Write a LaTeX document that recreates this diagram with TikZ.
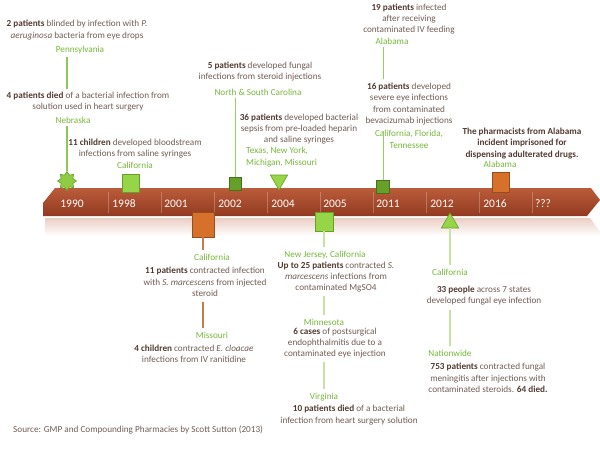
\documentclass[tikz,border=0pt]{standalone}
\usepackage{fontspec}
\setmainfont{Carlito}
\usetikzlibrary{shapes.geometric}
\definecolor{txtc}{RGB}{112,92,84}
\definecolor{boldc}{RGB}{82,58,48}
\definecolor{grnc}{RGB}{118,182,58}
\definecolor{barlt}{RGB}{186,92,58}
\definecolor{bardk}{RGB}{146,58,32}
\definecolor{lgrn}{RGB}{150,212,72}
\definecolor{dgrn}{RGB}{102,160,42}
\definecolor{orng}{RGB}{214,112,42}
\newcommand{\bnum}[1]{\textbf{\color{boldc}#1}}
\tikzstyle{txt}=[align=center,text=txtc,inner sep=0pt,font=\fontsize{9.2}{11.4}\selectfont]
\tikzstyle{place}=[align=center,text=grnc,inner sep=0pt,font=\fontsize{9.2}{11.4}\selectfont]
\tikzstyle{yearlbl}=[text=white,inner sep=0pt,font=\fontsize{11.5}{12}\selectfont]
\tikzstyle{sqlight}=[rectangle,draw=dgrn,fill=lgrn,inner sep=0pt,line width=0.6pt]
\tikzstyle{sqdark}=[rectangle,draw=dgrn!70!black,fill=dgrn,inner sep=0pt,line width=0.6pt]
\tikzstyle{sqorange}=[rectangle,draw=orng!70!black,fill=orng,inner sep=0pt,line width=0.6pt]
\tikzstyle{trigrn}=[regular polygon,regular polygon sides=3,draw=dgrn,fill=lgrn,inner sep=0pt,minimum size=20pt,line width=0.6pt]
\tikzstyle{stargrn}=[star,star points=8,star point ratio=1.5,draw=dgrn,fill=lgrn!85!dgrn,inner sep=0pt,minimum size=19pt,line width=0.6pt]
\tikzstyle{glink}=[draw={rgb,255:red,140;green,200;blue,88},line width=1.6pt]
\tikzstyle{gthin}=[draw={rgb,255:red,150;green,205;blue,100},line width=1pt]
\tikzstyle{gpale}=[draw={rgb,255:red,196;green,228;blue,160},line width=1.5pt]
\tikzstyle{olink}=[draw={rgb,255:red,204;green,120;blue,72},line width=1.5pt]
\tikzstyle{divider}=[draw=white,opacity=0.25,line width=0.8pt]

\begin{document}
\begin{tikzpicture}[x=1pt,y=-1pt]
	\useasboundingbox (0,0) rectangle (600,451);
	% timeline bar and its reflection
	\shade[top color=barlt!30,bottom color=white] (45,218) -- (590,218) -- (600,232) -- (600,236) -- (45,236) -- cycle;
	\shade[top color=barlt,bottom color=bardk] (55,188) -- (591,188) -- (600,200) -- (587,216) -- (43,216) -- (43,203) -- cycle;
	\foreach \i in {0,...,8}
		\draw[divider] ({108+53.1*\i},192) -- ({108+53.1*\i},213);
	\foreach \yr/\x [count=\i] in {1990/72,1998/124,2001/176,2002/230,2004/283,2005/335,2011/388,2012/442,2016/495,???/543}
		\node[yearlbl] (yr\i) at (\x,204) {\yr};

	% markers
	\node[stargrn] (m1990) at (67,181) {};
	\node[sqlight,minimum width=17pt,minimum height=18pt] (m1998) at (131,183) {};
	\node[sqorange,minimum width=22pt,minimum height=25pt] (m2001) at (203,224.5) {};
	\node[sqdark,minimum width=12pt,minimum height=13pt] (m2002) at (235,183.5) {};
	\node[trigrn,shape border rotate=180] (m2004) at (279,180) {};
	\node[sqlight,minimum width=18pt,minimum height=19pt] (m2005) at (324,221.5) {};
	\node[sqdark,minimum width=13pt,minimum height=13pt] (m2011) at (383,186.5) {};
	\node[trigrn] (m2012) at (450,223) {};
	\node[sqorange,minimum width=17pt,minimum height=20pt] (m2016) at (501,182) {};

	% above the bar
	\node[txt] (pat2) at (77,30) {\bnum{2 patients} blinded by infection with \textit{P.}\\\textit{aeruginosa} bacteria from eye drops};
	\node[place] (penn) at (80,50) {Pennsylvania};
	\node[txt] (died4) at (88,101.5) {\bnum{4 patients died} of a bacterial infection from\\solution used in heart surgery};
	\node[place] (nebr) at (73,120) {Nebraska};
	\node[txt] (chl11) at (135,148.5) {\bnum{11 children} developed bloodstream\\infections from saline syringes};
	\node[place] (cal98) at (135,165) {California};
	\node[txt] (pat5) at (260,71.5) {\bnum{5 patients} developed fungal\\infections from steroid injections};
	\node[place] (ncsc) at (258,92) {North \& South Carolina};
	\node[txt] (pat36) at (299,129) {\bnum{36 patients} developed bacterial\\sepsis from pre-loaded heparin\\and saline syringes};
	\node[place,align=left,anchor=west] (txmo) at (246,157) {Texas, New York,\\Michigan, Missouri};
	\node[txt] (pat19) at (409,19) {\bnum{19 patients} infected\\after receiving\\contaminated IV feeding};
	\node[place] (ala11) at (392,41) {Alabama};
	\node[txt] (pat16) at (409,104) {\bnum{16 patients} developed\\severe eye infections\\from contaminated\\bevacizumab injections};
	\node[place] (cft) at (409,139.5) {California, Florida,\\Tennessee};
	\node[txt] (pharm) at (522,143.5) {\bnum{The pharmacists from Alabama}\\\bnum{incident imprisoned for}\\\bnum{dispensing adulterated drugs.}};
	\node[place] (ala16) at (500,164) {Alabama};

	% below the bar
	\node[place] (cal01) at (212,257) {California};
	\node[txt] (pat11) at (205,282) {\bnum{11 patients} contracted infection\\with \textit{S. marcescens} from injected\\steroid};
	\node[place] (miss) at (212,335) {Missouri};
	\node[txt] (chl4) at (194,353.5) {\bnum{4 children} contracted \textit{E. cloacae}\\infections from IV ranitidine};
	\node[place] (njc) at (325,255) {New Jersey, California};
	\node[txt] (pat25) at (336,277) {\bnum{Up to 25 patients} contracted \textit{S.}\\\textit{marcescens} infections from\\contaminated MgSO4};
	\node[place] (minn) at (324,322) {Minnesota};
	\node[txt] (case6) at (335,343) {\bnum{6 cases} of postsurgical\\endophthalmitis due to a\\contaminated eye injection};
	\node[place] (virg) at (324,397) {Virginia};
	\node[txt] (died10) at (349,415) {\bnum{10 patients died} of a bacterial\\infection from heart surgery solution};
	\node[place] (cal12) at (450,272) {California};
	\node[txt] (ppl33) at (484,295.5) {\bnum{33 people} across 7 states\\developed fungal eye infection};
	\node[place] (natw) at (450,353) {Nationwide};
	\node[txt] (pat753) at (488,378) {\bnum{753 patients} contracted fungal\\meningitis after injections with\\contaminated steroids. \bnum{64 died.}};
	\node[txt,anchor=west] (src) at (13,430) {Source: GMP and Compounding Pharmacies by Scott Sutton (2013)};

	% connectors
	\draw[glink] ([yshift=-3pt]m1990 |- penn.south) -- ([yshift=3pt]m1990 |- died4.north);
	\draw[glink] (m1990.north) -- ([yshift=-3pt]m1990 |- nebr.south);
	\draw[gthin] (m2002.north) -- ([yshift=-3pt]m2002 |- ncsc.south);
	\draw[gthin] ([yshift=-3pt]m2011 |- ala11.south) -- ([yshift=4pt]m2011 |- pat16.north);
	\draw[gthin] (m2011.north) -- ([yshift=-1pt]m2011 |- cft.north);
	\draw[olink] (m2001.south) -- ([yshift=4pt]m2001 |- cal01.north);
	\draw[olink] ([yshift=-5pt]m2001 |- pat11.south) -- ([yshift=4pt]m2001 |- miss.north);
	\draw[gpale] (m2005.south) -- ([yshift=4pt]m2005 |- njc.north);
	\draw[gpale] ([yshift=-3pt]m2005 |- pat25.south) -- ([yshift=4pt]m2005 |- minn.north);
	\draw[gpale] ([yshift=-3pt]m2005 |- case6.south) -- ([yshift=4pt]m2005 |- virg.north);
	\draw[gpale] (m2012.south) -- ([yshift=4pt]m2012 |- cal12.north);
	\draw[gpale] ([yshift=-5pt]m2012 |- ppl33.south) -- ([yshift=4pt]m2012 |- natw.north);
\end{tikzpicture}
\end{document}
